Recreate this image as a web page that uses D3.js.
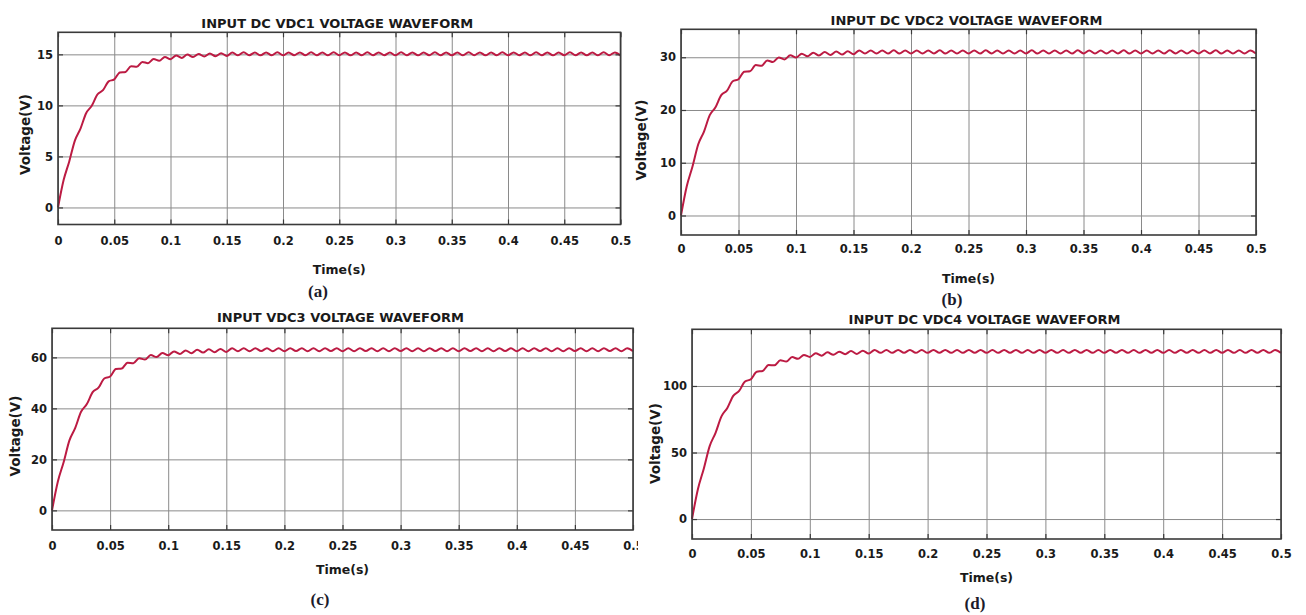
<!DOCTYPE html>
<html><head><meta charset="utf-8">
<script src="https://cdn.jsdelivr.net/npm/d3@7"></script>
<style>
html,body{margin:0;padding:0;background:#fff;}
svg{display:block;}
</style></head><body>
<svg id="chart" width="1306" height="615"></svg>
<script>
// ---------- DATA ----------
const timeS = [
  0,0.005,0.01,0.015,0.02,0.025,0.03,0.035,0.04,0.045,
  0.05,0.055,0.06,0.065,0.07,0.075,0.08,0.085,0.09,0.095,
  0.1,0.105,0.11,0.115,0.12,0.125,0.13,0.135,0.14,0.145,
  0.15,0.155,0.16,0.165,0.17,0.175,0.18,0.185,0.19,0.195,
  0.2,0.205,0.21,0.215,0.22,0.225,0.23,0.235,0.24,0.245,
  0.25,0.255,0.26,0.265,0.27,0.275,0.28,0.285,0.29,0.295,
  0.3,0.305,0.31,0.315,0.32,0.325,0.33,0.335,0.34,0.345,
  0.35,0.355,0.36,0.365,0.37,0.375,0.38,0.385,0.39,0.395,
  0.4,0.405,0.41,0.415,0.42,0.425,0.43,0.435,0.44,0.445,
  0.45,0.455,0.46,0.465,0.47,0.475,0.48,0.485,0.49,0.495,
  0.5
];
const vdc1 = [
  0, 2.68, 4.51, 6.55, 7.73, 9.23, 9.96, 11.07, 11.49, 12.35, 12.55,
  13.23, 13.28, 13.84, 13.78, 14.26, 14.13, 14.54, 14.37, 14.74, 14.53,
  14.89, 14.65, 14.98, 14.73, 15.04, 14.79, 15.08, 14.82, 15.11, 14.85,
  15.18,14.9, 15.2,14.92, 15.18,14.9, 15.19,14.91, 15.2,14.9,
  15.18,14.92, 15.19,14.9, 15.2,14.91, 15.18,14.9, 15.2,14.92,
  15.19,14.9, 15.18,14.91, 15.2,14.9, 15.19,14.92, 15.18,14.9,
  15.2,14.91, 15.19,14.9, 15.18,14.92, 15.2,14.9, 15.19,14.91,
  15.18,14.9, 15.2,14.92, 15.19,14.9, 15.18,14.91, 15.2,14.9,
  15.19,14.92, 15.18,14.9, 15.2,14.91, 15.19,14.9, 15.18,14.92,
  15.2,14.9, 15.19,14.91, 15.18,14.9, 15.2,14.92, 15.19,14.9
];
const vdc2 = [
  0, 5.54, 9.28, 13.51, 15.91, 19.02, 20.5, 22.81, 23.66, 25.44, 25.83,
  27.27, 27.35, 28.51, 28.38, 29.38, 29.09, 29.97, 29.58, 30.37, 29.93,
  30.68, 30.17, 30.87, 30.33, 30.99, 30.45, 31.08, 30.51, 31.15, 30.58,
  31.3,30.7, 31.28,30.72, 31.3,30.7, 31.32,30.7, 31.3,30.72,
  31.28,30.7, 31.3,30.72, 31.32,30.7, 31.3,30.7, 31.28,30.72,
  31.3,30.7, 31.32,30.72, 31.3,30.7, 31.28,30.7, 31.3,30.72,
  31.32,30.7, 31.3,30.7, 31.28,30.72, 31.3,30.7, 31.32,30.72,
  31.3,30.7, 31.28,30.7, 31.3,30.72, 31.32,30.7, 31.3,30.7,
  31.28,30.72, 31.3,30.7, 31.32,30.72, 31.3,30.7, 31.28,30.7,
  31.3,30.72, 31.32,30.7, 31.3,30.7, 31.28,30.72, 31.3,30.7
];
const vdc3 = [
  0, 11.25, 18.87, 27.44, 32.35, 38.65, 41.67, 46.34, 48.1, 51.69, 52.51,
  55.41, 55.6, 57.93, 57.68, 59.69, 59.12, 60.89, 60.13, 61.71, 60.83,
  62.34, 61.33, 62.72, 61.64, 62.97, 61.9, 63.16, 62.02, 63.29, 62.15,
  63.6,62.4, 63.55,62.4, 63.6,62.45, 63.6,62.4, 63.55,62.4,
  63.6,62.45, 63.6,62.4, 63.55,62.4, 63.6,62.45, 63.6,62.4,
  63.55,62.4, 63.6,62.45, 63.6,62.4, 63.55,62.4, 63.6,62.45,
  63.6,62.4, 63.55,62.4, 63.6,62.45, 63.6,62.4, 63.55,62.4,
  63.6,62.45, 63.6,62.4, 63.55,62.4, 63.6,62.45, 63.6,62.4,
  63.55,62.4, 63.6,62.45, 63.6,62.4, 63.55,62.4, 63.6,62.45,
  63.6,62.4, 63.55,62.4, 63.6,62.45, 63.6,62.4, 63.55,62.4
];
const vdc4 = [
  0, 22.4, 37.8, 54.8, 64.8, 77.2, 83.5, 92.6, 96.3, 103.3, 105.1,
  110.7, 111.3, 115.8, 115.5, 119.3, 118.4, 121.7, 120.4, 123.3, 121.8,
  124.6, 122.8, 125.3, 123.4, 125.8, 123.9, 126.2, 124.1, 126.5, 124.4,
  127.1,124.9, 127.0,124.9, 127.1,125.0, 127.1,124.9, 127.0,124.9,
  127.1,125.0, 127.1,124.9, 127.0,124.9, 127.1,125.0, 127.1,124.9,
  127.0,124.9, 127.1,125.0, 127.1,124.9, 127.0,124.9, 127.1,125.0,
  127.1,124.9, 127.0,124.9, 127.1,125.0, 127.1,124.9, 127.0,124.9,
  127.1,125.0, 127.1,124.9, 127.0,124.9, 127.1,125.0, 127.1,124.9,
  127.0,124.9, 127.1,125.0, 127.1,124.9, 127.0,124.9, 127.1,125.0,
  127.1,124.9, 127.0,124.9, 127.1,125.0, 127.1,124.9, 127.0,124.9
];
const xTicks = [0,0.05,0.1,0.15,0.2,0.25,0.3,0.35,0.4,0.45,0.5];
const yTicks1 = [0,5,10,15];
const yTicks2 = [0,10,20,30];
const yTicks3 = [0,20,40,60];
const yTicks4 = [0,50,100];
const yDomain1 = [-1.67,17.16];
const yDomain2 = [-3.7,35.3];
const yDomain3 = [-7.7,71.4];
const yDomain4 = [-15,142.6];
const titles = ["INPUT DC VDC1 VOLTAGE WAVEFORM","INPUT DC VDC2 VOLTAGE WAVEFORM","INPUT VDC3 VOLTAGE WAVEFORM","INPUT DC VDC4 VOLTAGE WAVEFORM"];
const panelLetters = ["(a)","(b)","(c)","(d)"];
const xLabel = "Time(s)";
const yLabel = "Voltage(V)";

// ---------- LAYOUT ----------
const series = [vdc1,vdc2,vdc3,vdc4];
const yTickSets = [yTicks1,yTicks2,yTicks3,yTicks4];
const yDomains = [yDomain1,yDomain2,yDomain3,yDomain4];
const layouts = [
  {L:58,  R:620.5, T:32.3,  B:224.5, titleY:28,  tickY:245, xlabY:274, letX:318, letY:297, ylabX:29.5, ylabY:134.5, clip:null},
  {L:681, R:1256,  T:29.3,  B:235,   titleY:25,  tickY:253, xlabY:283, letX:952, letY:305, ylabX:646,  ylabY:140,   clip:null},
  {L:52,  R:633,   T:328.3, B:530,   titleY:322, tickY:550, xlabY:574, letX:320, letY:605, ylabX:20,   ylabY:436,   clip:638},
  {L:692, R:1281,  T:329.3, B:539,   titleY:324, tickY:558, xlabY:582, letX:975, letY:609, ylabX:660,  ylabY:443.5, clip:null}
];
const FONT = "'DejaVu Sans', sans-serif";
const LINE_COLOR = "#bc1b43";
const GRID_COLOR = "#8a8a8a";
const BOX_COLOR = "#3a3a3a";
const TEXT_COLOR = "#1a1a1a";

const svg = d3.select("#chart");
svg.append("rect").attr("width",1306).attr("height",615).attr("fill","#fff");
const defs = svg.append("defs");

layouts.forEach((lay, p) => {
  let g = svg.append("g");
  if (lay.clip !== null) {
    defs.append("clipPath").attr("id","clip"+p).append("rect")
      .attr("x",0).attr("y",lay.T-40).attr("width",lay.clip).attr("height",lay.B-lay.T+120);
    g.attr("clip-path","url(#clip"+p+")");
  }
  const x = d3.scaleLinear().domain([0,0.5]).range([lay.L,lay.R]);
  const y = d3.scaleLinear().domain(yDomains[p]).range([lay.B,lay.T]);
  const W = lay.R-lay.L, H = lay.B-lay.T;

  // grid
  g.append("g").attr("transform",`translate(0,${lay.B})`)
    .call(d3.axisBottom(x).tickValues(xTicks).tickSize(-H).tickFormat(""))
    .call(s=>{s.select(".domain").remove(); s.selectAll("line").attr("stroke",GRID_COLOR).attr("stroke-width",1);});
  g.append("g").attr("transform",`translate(${lay.L},0)`)
    .call(d3.axisLeft(y).tickValues(yTickSets[p]).tickSize(-W).tickFormat(""))
    .call(s=>{s.select(".domain").remove(); s.selectAll("line").attr("stroke",GRID_COLOR).attr("stroke-width",1);});

  // waveform
  const line = d3.line().x((d,i)=>x(timeS[i])).y(d=>y(d)).curve(d3.curveMonotoneX);
  g.append("path").datum(series[p]).attr("d",line)
    .attr("fill","none").attr("stroke",LINE_COLOR).attr("stroke-width",2)
    .attr("stroke-linejoin","round");

  // box
  g.append("rect").attr("x",lay.L).attr("y",lay.T).attr("width",W).attr("height",H)
    .attr("fill","none").attr("stroke",BOX_COLOR).attr("stroke-width",1.6);

  const styleAxis = s => {
    s.select(".domain").remove();
    s.attr("font-family",FONT).attr("font-size",11.5).attr("font-weight","bold").attr("color",TEXT_COLOR);
    s.selectAll("line").attr("stroke",BOX_COLOR).attr("stroke-width",1.2);
  };
  g.append("g").attr("transform",`translate(0,${lay.B})`)
    .call(d3.axisBottom(x).tickValues(xTicks).tickSize(-5).tickPadding(8).tickFormat(d=>String(d)))
    .call(styleAxis)
    .call(s=>s.selectAll("text").attr("y",lay.tickY-lay.B).attr("dy",0));
  g.append("g").attr("transform",`translate(0,${lay.T})`)
    .call(d3.axisTop(x).tickValues(xTicks).tickSize(-5).tickFormat(""))
    .call(styleAxis);
  g.append("g").attr("transform",`translate(${lay.L},0)`)
    .call(d3.axisLeft(y).tickValues(yTickSets[p]).tickSize(-5).tickPadding(5).tickFormat(d=>String(d)))
    .call(styleAxis);
  g.append("g").attr("transform",`translate(${lay.R},0)`)
    .call(d3.axisRight(y).tickValues(yTickSets[p]).tickSize(-5).tickFormat(""))
    .call(styleAxis);

  const cx = (lay.L+lay.R)/2;
  g.append("text").attr("x",cx-2).attr("y",lay.titleY).attr("text-anchor","middle")
    .attr("font-family",FONT).attr("font-weight","bold").attr("font-size",13).attr("fill",TEXT_COLOR)
    .text(titles[p]);
  g.append("text").attr("x",cx).attr("y",lay.xlabY).attr("text-anchor","middle")
    .attr("font-family",FONT).attr("font-weight","bold").attr("font-size",12.5).attr("fill",TEXT_COLOR)
    .text(xLabel);
  g.append("text").attr("transform",`translate(${lay.ylabX},${lay.ylabY}) rotate(-90)`).attr("text-anchor","middle")
    .attr("font-family",FONT).attr("font-weight","bold").attr("font-size",13.5).attr("fill",TEXT_COLOR)
    .text(yLabel);
  svg.append("text").attr("x",lay.letX).attr("y",lay.letY).attr("text-anchor","middle")
    .attr("font-family","'Liberation Serif', serif").attr("font-weight","bold").attr("font-size",17).attr("fill","#1b1b2b")
    .text(panelLetters[p]);
});
</script>
</body></html>
